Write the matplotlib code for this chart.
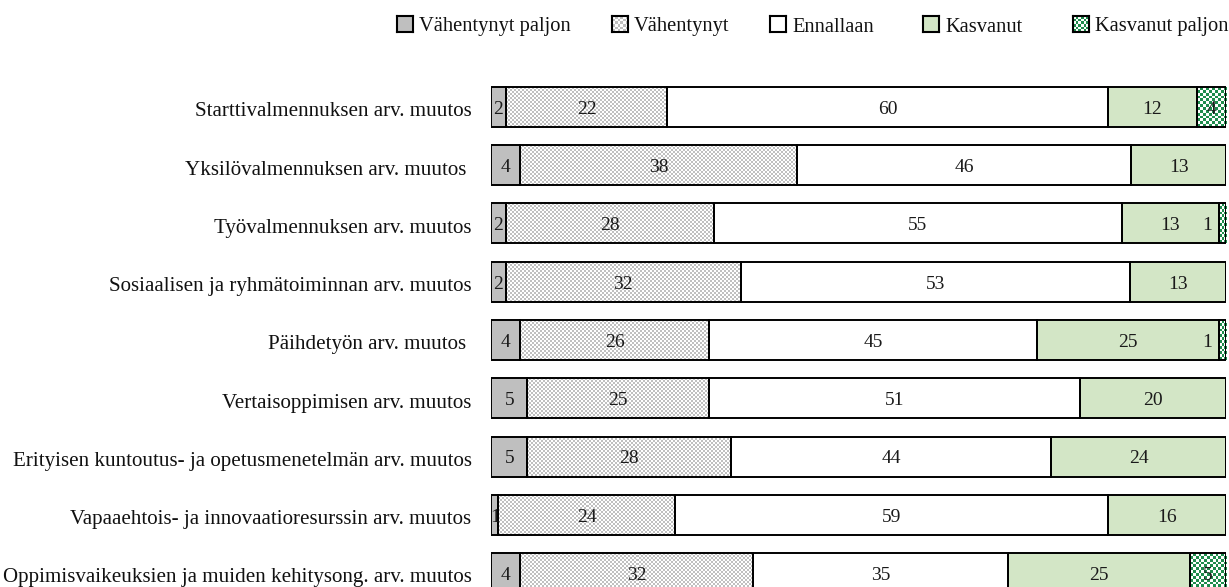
import numpy as np
import matplotlib
matplotlib.use("Agg")
import matplotlib.pyplot as plt
from matplotlib.colors import ListedColormap

plt.rcParams['font.family'] = ['Liberation Serif', 'DejaVu Serif']

categories = [
    "Starttivalmennuksen arv. muutos",
    "Yksilövalmennuksen arv. muutos ",
    "Työvalmennuksen arv. muutos",
    "Sosiaalisen ja ryhmätoiminnan arv. muutos",
    "Päihdetyön arv. muutos ",
    "Vertaisoppimisen arv. muutos",
    "Erityisen kuntoutus- ja opetusmenetelmän arv. muutos",
    "Vapaaehtois- ja innovaatioresurssin arv. muutos",
    "Oppimisvaikeuksien ja muiden kehitysong. arv. muutos",
]
series_names = ["Vähentynyt paljon", "Vähentynyt", "Ennallaan", "Kasvanut", "Kasvanut paljon"]
vah_paljon = [2, 4, 2, 2, 4, 5, 5, 1, 4]
vahentynyt = [22, 38, 28, 32, 26, 25, 28, 24, 32]
ennallaan = [60, 46, 55, 53, 45, 51, 44, 59, 35]
kasvanut = [12, 13, 13, 13, 25, 20, 24, 16, 25]
kas_paljon = [4, 0, 1, 0, 1, 0, 0, 0, 5]

# styles: (facecolor, checker color or None)
styles = [
    ("#bfbfbf", None),
    ("#ffffff", "#c0c0c0"),
    ("#ffffff", None),
    ("#d3e6c6", None),
    ("#ffffff", "#1e8c4c"),
]

W, H = 1229, 587
fig = plt.figure(figsize=(W / 100, H / 100), dpi=100)

row_px = 58.25
top_center = 107
x0_px, x1_px = 491, 1226
top_px = top_center - row_px / 2
ylim_bottom = 8 + (H - 573) / row_px
ax = fig.add_axes([x0_px / W, 0, (x1_px - x0_px) / W, (H - top_px) / H])

data = np.array([vah_paljon, vahentynyt, ennallaan, kasvanut, kas_paljon], dtype=float)
totals = data.sum(axis=0)
norm = data / totals * 100
y = np.arange(len(categories))
bar_h = 40 / row_px
px_per_unit = (x1_px - x0_px) / 100.0
txt_dy = 0.04

left = np.zeros(len(categories))
for s in range(len(series_names)):
    fc, chk = styles[s]
    bars = ax.barh(y, norm[s], left=left, height=bar_h, color=fc,
                   edgecolor='none', zorder=1)
    if chk is not None:
        cmap = ListedColormap(["#ffffff", chk])
        for i, rect in enumerate(bars):
            if norm[s][i] <= 0:
                continue
            wpx = norm[s][i] * px_per_unit
            sq = 2.0 if s == 1 else 2.8
            nc = max(1, int(round(wpx / sq)))
            nr = int(round(40 / sq))
            grid = (np.add.outer(np.arange(nr), np.arange(nc)) % 2).astype(float)
            im = ax.imshow(grid, extent=[left[i], left[i] + norm[s][i], y[i] + bar_h / 2, y[i] - bar_h / 2],
                           aspect='auto', interpolation='nearest', cmap=cmap, vmin=0, vmax=1, zorder=1.5)
            im.set_clip_path(rect)
    ax.barh(y, norm[s], left=left, height=bar_h, fill=False,
            edgecolor='black', linewidth=1.4, zorder=3)
    for i in range(len(categories)):
        v = data[s][i]
        if v <= 0:
            continue
        if s == 4 and norm[s][i] < 2:
            ax.text(left[i] - 0.9, y[i] + txt_dy, f"{int(v)}", ha='right', va='center',
                    fontsize=14, color='#1a1a1a', zorder=4)
        else:
            ax.text(left[i] + norm[s][i] / 2, y[i] + txt_dy, f"{int(v)}", ha='center', va='center',
                    fontsize=14, color='#1a1a1a', zorder=4)
    left = left + norm[s]

ax.set_xlim(0, 100)
ax.set_ylim(ylim_bottom, -0.5)
ax.set_yticks(y + txt_dy)
ax.set_yticklabels(categories, fontsize=15.1, color='#111111')
ax.tick_params(axis='y', length=0, pad=14)
ax.set_xticks([])
for sp in ax.spines.values():
    sp.set_visible(False)

# legend drawn manually
leg_sq = [397, 612, 770, 923, 1073]
sq_size = 16
sq_top = 16
for k, name in enumerate(series_names):
    fc, chk = styles[k]
    lax = fig.add_axes([leg_sq[k] / W, (H - sq_top - sq_size) / H, sq_size / W, sq_size / H])
    if chk is not None:
        n = 6
        grid = (np.add.outer(np.arange(n), np.arange(n)) % 2).astype(float)
        lax.imshow(grid, cmap=ListedColormap(["#ffffff", chk]), vmin=0, vmax=1,
                   aspect='auto', interpolation='nearest')
    else:
        lax.set_facecolor(fc)
    lax.set_xticks([])
    lax.set_yticks([])
    for sp in lax.spines.values():
        sp.set_linewidth(1.5)
        sp.set_color('black')
    fig.text((leg_sq[k] + sq_size + 6) / W, 1 - 27 / H, name, ha='left', va='center',
             fontsize=14.8, color='#111111')

fig.savefig("out.png", dpi=100)
